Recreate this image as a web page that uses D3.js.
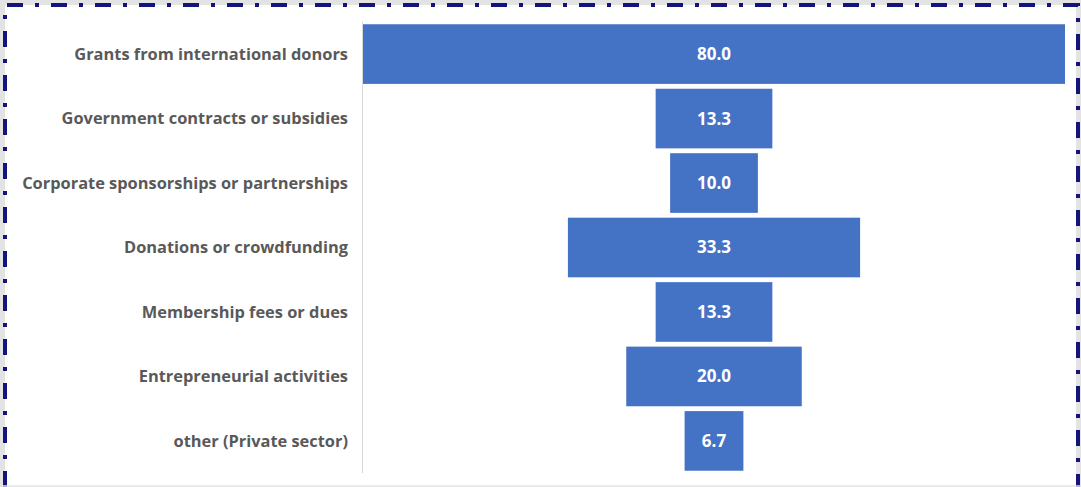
<!DOCTYPE html>
<html>
<head>
<meta charset="utf-8">
<script src="https://cdn.jsdelivr.net/npm/d3@7"></script>
<style>
  body { margin: 0; background: #fff; }
  svg { display: block; }
</style>
</head>
<body>
<div id="chart"></div>
<script>
const categories = [
    "Grants from international donors",
    "Government contracts or subsidies",
    "Corporate sponsorships or partnerships",
    "Donations or crowdfunding",
    "Membership fees or dues",
    "Entrepreneurial activities",
    "other (Private sector)"
];
const values = [80.0, 13.3, 10.0, 33.3, 13.3, 20.0, 6.7];

const W = 1081, H = 487;
const margin = { top: 22, right: 16, bottom: 14, left: 363 };
const width = W - margin.left - margin.right,
    height = H - margin.top - margin.bottom;

const svg = d3.select("#chart").append("svg")
    .attr("width", W)
    .attr("height", H);

// outer frame: grey edge with a dash-dot navy line on top, left and right
svg.append("path")
    .attr("d", `M2,${H} V2 H${W - 2} V${H}`)
    .attr("fill", "none")
    .attr("stroke", "#e3e3e3")
    .attr("stroke-width", 6);
svg.append("path")
    .attr("d", `M5,${H} V5 H${W - 3} V${H}`)
    .attr("fill", "none")
    .attr("stroke", "#14147a")
    .attr("stroke-width", 4)
    .attr("stroke-dasharray", "16 12 4 12");
svg.append("line")
    .attr("x1", 0).attr("x2", W)
    .attr("y1", H - 1).attr("y2", H - 1)
    .attr("stroke", "#e3e3e3")
    .attr("stroke-width", 1.5);

const g = svg.append("g")
    .attr("transform", `translate(${margin.left},${margin.top})`);

const y = d3.scaleBand()
    .domain(categories)
    .range([0, height])
    .paddingInner(0.075)
    .paddingOuter(0.035);

const x = d3.scaleLinear()
    .domain([0, d3.max(values)])
    .range([0, 702]);

const cx = 351;

// category axis
g.append("line")
    .attr("x1", -0.5).attr("x2", -0.5)
    .attr("y1", 0).attr("y2", height)
    .attr("stroke", "#d9d9d9")
    .attr("stroke-width", 1);

g.selectAll("text.cat")
    .data(categories)
    .enter()
    .append("text")
    .attr("class", "cat")
    .attr("x", -15)
    .attr("y", d => y(d) + y.bandwidth() / 2)
    .attr("dy", "0.35em")
    .attr("text-anchor", "end")
    .style("font-family", "'Open Sans', sans-serif")
    .style("font-weight", 700)
    .style("font-size", "16.4px")
    .style("fill", "#595959")
    .text(d => d);

const rows = categories.map((c, i) => ({ name: c, value: values[i] }));

g.selectAll("rect.bar")
    .data(rows)
    .enter()
    .append("rect")
    .attr("class", "bar")
    .attr("x", d => cx - x(d.value) / 2)
    .attr("y", d => y(d.name))
    .attr("width", d => x(d.value))
    .attr("height", y.bandwidth())
    .attr("fill", "#4472c4");

g.selectAll("text.val")
    .data(rows)
    .enter()
    .append("text")
    .attr("class", "val")
    .attr("x", cx)
    .attr("y", d => y(d.name) + y.bandwidth() / 2)
    .attr("dy", "0.35em")
    .attr("text-anchor", "middle")
    .style("font-family", "'Open Sans', sans-serif")
    .style("font-weight", 700)
    .style("font-size", "17px")
    .style("fill", "#ffffff")
    .text(d => d.value.toFixed(1));
</script>
</body>
</html>
